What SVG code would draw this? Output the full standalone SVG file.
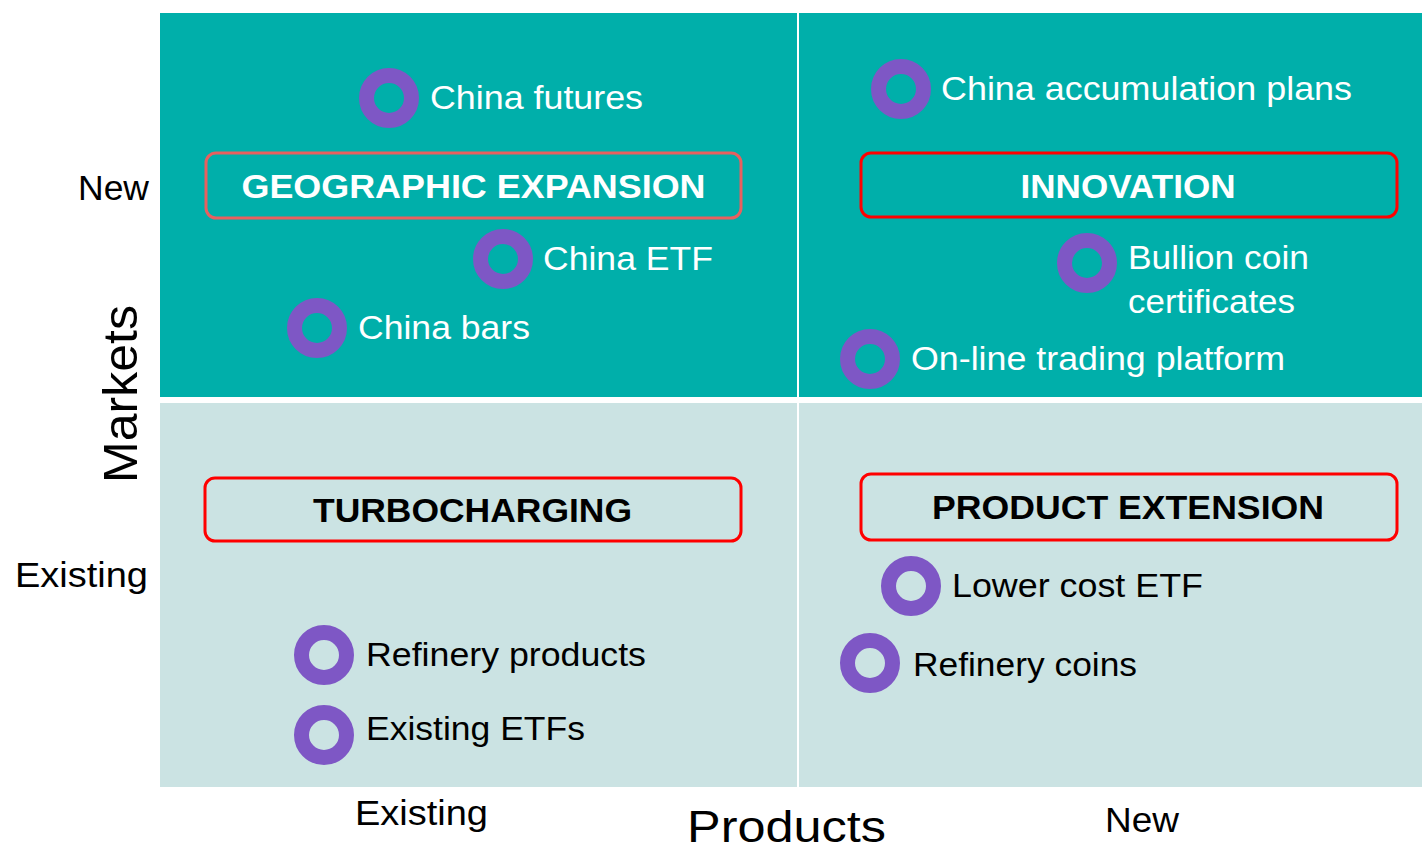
<svg xmlns="http://www.w3.org/2000/svg" width="1422" height="848" viewBox="0 0 1422 848">
  <style>
    .q-new { fill: #00AFAA; }
    .q-old { fill: #CBE3E3; }
    .ring { fill: none; stroke: #7E57C5; stroke-width: 15; }
    .lbl { font-family: "Liberation Sans", Arial, sans-serif; font-size: 34px; }
    .lbl-w { fill: #FFFFFF; }
    .lbl-k { fill: #000000; }
    .title { font-family: "Liberation Sans", Arial, sans-serif; font-size: 34px; font-weight: bold; text-anchor: middle; }
    .frame { fill: none; stroke: #FF0000; stroke-width: 3; }
    .axis { font-family: "Liberation Sans", Arial, sans-serif; font-size: 35px; fill: #000000; }
    .axis-title { font-family: "Liberation Sans", Arial, sans-serif; font-size: 48px; fill: #000000; }
  </style>

  <rect width="1422" height="848" fill="#FFFFFF"/>

  <!-- quadrant backgrounds -->
  <g id="quadrants">
    <rect class="q-new" x="160" y="13" width="637" height="384"/>
    <rect class="q-new" x="799" y="13" width="623" height="384"/>
    <rect class="q-old" x="160" y="403" width="637" height="384"/>
    <rect class="q-old" x="799" y="403" width="623" height="384"/>
  </g>

  <!-- axis labels -->
  <g id="axes">
    <text class="axis" x="149" y="200" text-anchor="end" textLength="71" lengthAdjust="spacingAndGlyphs">New</text>
    <text class="axis" x="15" y="587" textLength="133" lengthAdjust="spacingAndGlyphs">Existing</text>
    <text class="axis-title" transform="translate(137 394) rotate(-90)" text-anchor="middle" textLength="178" lengthAdjust="spacingAndGlyphs">Markets</text>
    <text class="axis" x="355" y="825" textLength="133" lengthAdjust="spacingAndGlyphs">Existing</text>
    <text class="axis" x="1105" y="832" textLength="74" lengthAdjust="spacingAndGlyphs">New</text>
    <text class="axis-title" x="687" y="842" style="font-size:45px" textLength="199" lengthAdjust="spacingAndGlyphs">Products</text>
  </g>

  <!-- strategy frames -->
  <g id="geographic-expansion">
    <rect class="frame" x="206" y="153" width="535" height="65" rx="10" style="stroke:#E8605F"/>
    <text class="title lbl-w" x="473.5" y="198" textLength="464" lengthAdjust="spacingAndGlyphs">GEOGRAPHIC EXPANSION</text>
  </g>
  <g id="innovation">
    <rect class="frame" x="861" y="153" width="536" height="64" rx="10"/>
    <text class="title lbl-w" x="1128" y="198" textLength="215" lengthAdjust="spacingAndGlyphs">INNOVATION</text>
  </g>
  <g id="turbocharging">
    <rect class="frame" x="205" y="478" width="536" height="63" rx="10"/>
    <text class="title lbl-k" x="472.5" y="522" textLength="319" lengthAdjust="spacingAndGlyphs">TURBOCHARGING</text>
  </g>
  <g id="product-extension">
    <rect class="frame" x="861" y="474" width="536" height="66" rx="10"/>
    <text class="title lbl-k" x="1128" y="519" textLength="392" lengthAdjust="spacingAndGlyphs">PRODUCT EXTENSION</text>
  </g>

  <!-- initiatives -->
  <g id="china-futures">
    <circle class="ring" cx="389" cy="98" r="22.5"/>
    <text class="lbl lbl-w" x="430" y="109" textLength="213" lengthAdjust="spacingAndGlyphs">China futures</text>
  </g>
  <g id="china-etf">
    <circle class="ring" cx="503" cy="259" r="22.5"/>
    <text class="lbl lbl-w" x="543" y="270" textLength="170" lengthAdjust="spacingAndGlyphs">China ETF</text>
  </g>
  <g id="china-bars">
    <circle class="ring" cx="317" cy="328" r="22.5"/>
    <text class="lbl lbl-w" x="358" y="339" textLength="172" lengthAdjust="spacingAndGlyphs">China bars</text>
  </g>
  <g id="china-accumulation-plans">
    <circle class="ring" cx="901" cy="89" r="22.5"/>
    <text class="lbl lbl-w" x="941" y="100" textLength="411" lengthAdjust="spacingAndGlyphs">China accumulation plans</text>
  </g>
  <g id="bullion-coin-certificates">
    <circle class="ring" cx="1087" cy="263" r="22.5"/>
    <text class="lbl lbl-w" x="1128" y="269" textLength="181" lengthAdjust="spacingAndGlyphs">Bullion coin</text>
    <text class="lbl lbl-w" x="1128" y="313" textLength="167" lengthAdjust="spacingAndGlyphs">certificates</text>
  </g>
  <g id="online-trading-platform">
    <circle class="ring" cx="870" cy="359" r="22.5"/>
    <text class="lbl lbl-w" x="911" y="370" textLength="374" lengthAdjust="spacingAndGlyphs">On-line trading platform</text>
  </g>
  <g id="refinery-products">
    <circle class="ring" cx="324" cy="655" r="22.5"/>
    <text class="lbl lbl-k" x="366" y="666" textLength="280" lengthAdjust="spacingAndGlyphs">Refinery products</text>
  </g>
  <g id="existing-etfs">
    <circle class="ring" cx="324" cy="735" r="22.5"/>
    <text class="lbl lbl-k" x="366" y="740" textLength="219" lengthAdjust="spacingAndGlyphs">Existing ETFs</text>
  </g>
  <g id="lower-cost-etf">
    <circle class="ring" cx="911" cy="586" r="22.5"/>
    <text class="lbl lbl-k" x="952" y="597" textLength="251" lengthAdjust="spacingAndGlyphs">Lower cost ETF</text>
  </g>
  <g id="refinery-coins">
    <circle class="ring" cx="870" cy="663" r="22.5"/>
    <text class="lbl lbl-k" x="913" y="676" textLength="224" lengthAdjust="spacingAndGlyphs">Refinery coins</text>
  </g>

  <!-- no connectors in this matrix -->
  <g id="connectors"/>
</svg>
